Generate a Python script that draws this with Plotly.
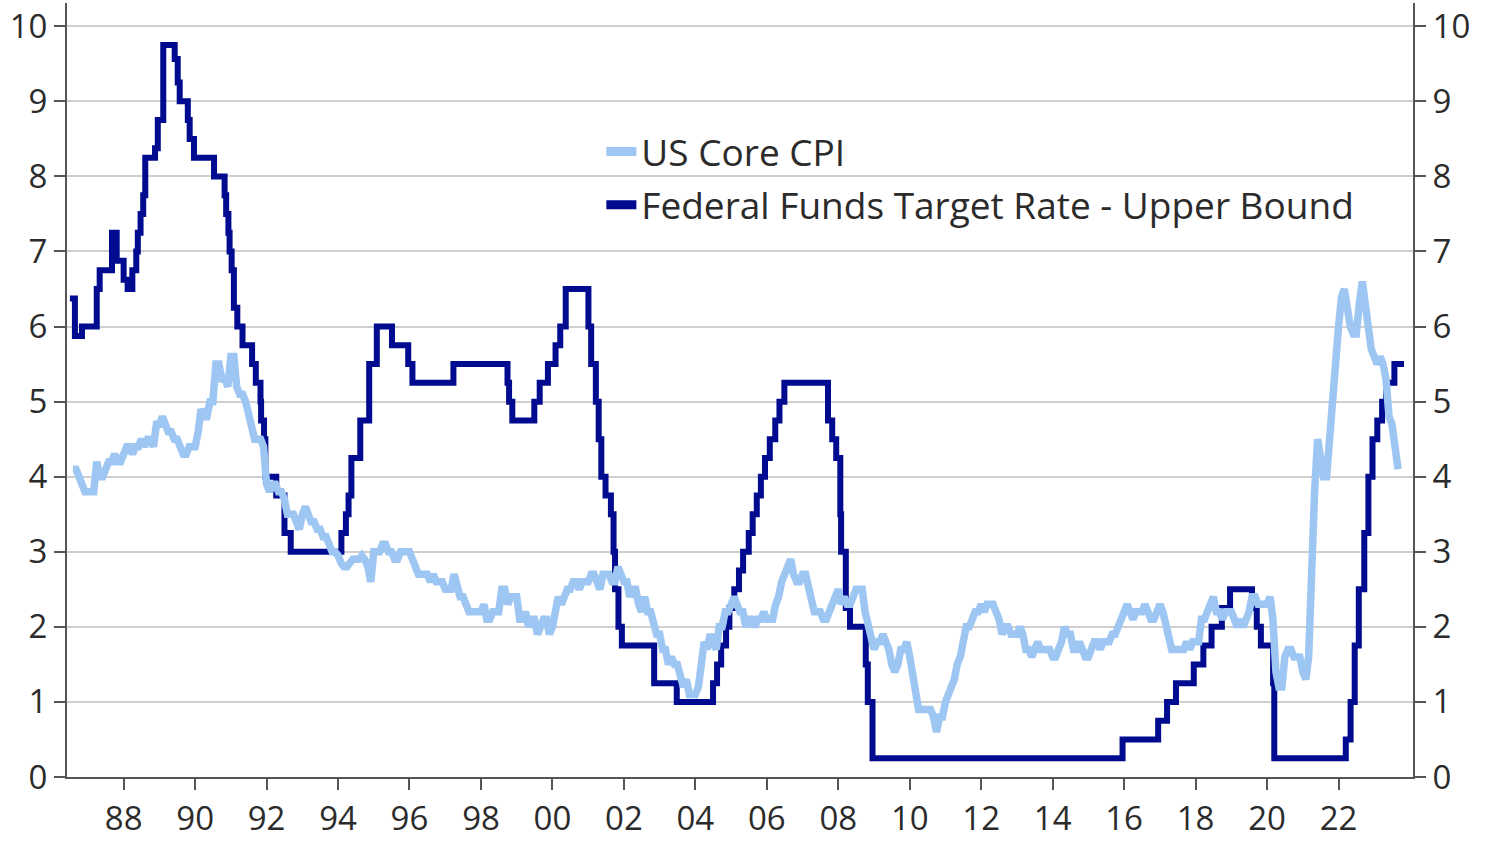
import plotly.graph_objects as go
import pandas as pd

# ---------------- data ----------------
series_names = ["US Core CPI", "Federal Funds Target Rate - Upper Bound"]

# US core CPI, % y/y, monthly from Aug 1986 to Sep 2023
cpi_start = "1986-08-01"
cpi_values = [
    4.1, 4.1, 4.0, 3.9, 3.8,                                        # 1986 (Aug-Dec)
    3.8, 3.8, 3.8, 4.2, 4.0, 4.0, 4.1, 4.2, 4.2, 4.3, 4.2, 4.2,     # 1987
    4.3, 4.4, 4.4, 4.3, 4.4, 4.4, 4.5, 4.4, 4.5, 4.5, 4.4, 4.7,     # 1988
    4.7, 4.8, 4.7, 4.6, 4.6, 4.5, 4.5, 4.4, 4.3, 4.3, 4.4, 4.4,     # 1989
    4.4, 4.6, 4.9, 4.8, 4.8, 5.0, 5.0, 5.5, 5.5, 5.3, 5.3, 5.2,     # 1990
    5.6, 5.6, 5.2, 5.1, 5.1, 5.0, 4.8, 4.6, 4.5, 4.5, 4.5, 4.4,     # 1991
    3.9, 3.8, 3.9, 3.9, 3.8, 3.8, 3.7, 3.5, 3.5, 3.5, 3.4, 3.3,     # 1992
    3.5, 3.6, 3.5, 3.4, 3.4, 3.3, 3.3, 3.2, 3.2, 3.1, 3.0, 3.0,     # 1993
    2.95, 2.85, 2.8, 2.8, 2.85, 2.9, 2.9, 2.9, 2.95, 2.9, 2.8, 2.6, # 1994
    3.0, 3.0, 3.0, 3.1, 3.1, 3.0, 3.0, 2.9, 2.9, 3.0, 3.0, 3.0,     # 1995
    3.0, 2.9, 2.8, 2.7, 2.7, 2.7, 2.7, 2.6, 2.7, 2.6, 2.6, 2.6,     # 1996
    2.5, 2.5, 2.5, 2.7, 2.5, 2.4, 2.4, 2.3, 2.2, 2.2, 2.2, 2.2,     # 1997
    2.2, 2.3, 2.1, 2.1, 2.2, 2.2, 2.2, 2.5, 2.5, 2.3, 2.4, 2.4,     # 1998
    2.4, 2.1, 2.1, 2.2, 2.0, 2.1, 2.1, 1.9, 2.0, 2.1, 2.1, 1.9,     # 1999
    2.0, 2.2, 2.4, 2.3, 2.4, 2.5, 2.5, 2.6, 2.6, 2.5, 2.6, 2.6,     # 2000
    2.6, 2.7, 2.7, 2.6, 2.5, 2.7, 2.7, 2.7, 2.6, 2.6, 2.8, 2.7,     # 2001
    2.6, 2.6, 2.4, 2.5, 2.5, 2.3, 2.2, 2.4, 2.2, 2.2, 2.0, 1.9,     # 2002
    1.9, 1.7, 1.7, 1.5, 1.6, 1.5, 1.5, 1.3, 1.2, 1.3, 1.1, 1.1,     # 2003
    1.1, 1.2, 1.6, 1.8, 1.7, 1.9, 1.8, 1.7, 2.0, 2.0, 2.2, 2.2,     # 2004
    2.3, 2.4, 2.3, 2.2, 2.2, 2.0, 2.1, 2.1, 2.0, 2.1, 2.1, 2.2,     # 2005
    2.1, 2.1, 2.1, 2.3, 2.4, 2.6, 2.7, 2.8, 2.9, 2.7, 2.6, 2.6,     # 2006
    2.7, 2.7, 2.5, 2.3, 2.2, 2.2, 2.2, 2.1, 2.1, 2.2, 2.3, 2.4,     # 2007
    2.5, 2.3, 2.4, 2.3, 2.3, 2.4, 2.5, 2.5, 2.5, 2.2, 2.0, 1.8,     # 2008
    1.7, 1.8, 1.8, 1.9, 1.8, 1.7, 1.5, 1.4, 1.5, 1.7, 1.7, 1.8,     # 2009
    1.6, 1.3, 1.1, 0.9, 0.9, 0.9, 0.9, 0.9, 0.8, 0.6, 0.8, 0.8,     # 2010
    1.0, 1.1, 1.2, 1.3, 1.5, 1.6, 1.8, 2.0, 2.0, 2.1, 2.2, 2.2,     # 2011
    2.3, 2.2, 2.3, 2.3, 2.3, 2.2, 2.1, 1.9, 2.0, 2.0, 1.9, 1.9,     # 2012
    1.9, 2.0, 1.9, 1.7, 1.7, 1.6, 1.7, 1.8, 1.7, 1.7, 1.7, 1.7,     # 2013
    1.6, 1.6, 1.7, 1.8, 2.0, 1.9, 1.9, 1.7, 1.7, 1.8, 1.7, 1.6,     # 2014
    1.6, 1.7, 1.8, 1.8, 1.7, 1.8, 1.8, 1.8, 1.9, 1.9, 2.0, 2.1,     # 2015
    2.2, 2.3, 2.2, 2.1, 2.2, 2.2, 2.2, 2.3, 2.2, 2.1, 2.1, 2.2,     # 2016
    2.3, 2.2, 2.0, 1.9, 1.7, 1.7, 1.7, 1.7, 1.7, 1.8, 1.7, 1.8,     # 2017
    1.8, 1.8, 2.1, 2.1, 2.2, 2.3, 2.4, 2.2, 2.2, 2.1, 2.2, 2.2,     # 2018
    2.2, 2.1, 2.0, 2.1, 2.0, 2.1, 2.2, 2.4, 2.4, 2.3, 2.3, 2.3,     # 2019
    2.3, 2.4, 2.1, 1.4, 1.2, 1.2, 1.6, 1.7, 1.7, 1.6, 1.6, 1.6,     # 2020
    1.4, 1.3, 1.6, 3.0, 3.8, 4.5, 4.3, 4.0, 4.0, 4.6, 4.9, 5.5,     # 2021
    6.0, 6.4, 6.5, 6.2, 6.0, 5.9, 5.9, 6.3, 6.6, 6.3, 6.0, 5.7,     # 2022
    5.6, 5.5, 5.6, 5.5, 5.3, 4.8, 4.7, 4.3, 4.1,                    # 2023 (Jan-Sep)
]

# Fed funds target rate (upper bound): dates of each change and new level
fed_dates = [
    "1986-07-01", "1986-08-21", "1986-11-01", "1987-04-01", "1987-05-01",
    "1987-09-04", "1987-10-22", "1988-01-01", "1988-02-11", "1988-03-30",
    "1988-05-09", "1988-05-25", "1988-06-22", "1988-07-19", "1988-08-09",
    "1988-11-17", "1988-12-15", "1989-02-09", "1989-06-06", "1989-07-07",
    "1989-07-27", "1989-10-18", "1989-11-06", "1989-12-20", "1990-07-13",
    "1990-10-29", "1990-11-14", "1990-12-07", "1990-12-19", "1991-01-09",
    "1991-02-01", "1991-03-08", "1991-04-30", "1991-08-06", "1991-09-13",
    "1991-10-31", "1991-11-06", "1991-12-06", "1991-12-20", "1992-04-09",
    "1992-07-02", "1992-09-04", "1994-02-04", "1994-03-22", "1994-04-18",
    "1994-05-17", "1994-08-16", "1994-11-15", "1995-02-01", "1995-07-06",
    "1995-12-19", "1996-01-31", "1997-03-25", "1998-09-29", "1998-10-15",
    "1998-11-17", "1999-06-30", "1999-08-24", "1999-11-16", "2000-02-02",
    "2000-03-21", "2000-05-16", "2001-01-03", "2001-01-31", "2001-03-20",
    "2001-04-18", "2001-05-15", "2001-06-27", "2001-08-21", "2001-09-17",
    "2001-10-02", "2001-11-06", "2001-12-11", "2002-11-06", "2003-06-25",
    "2004-06-30", "2004-08-10", "2004-09-21", "2004-11-10", "2004-12-14",
    "2005-02-02", "2005-03-22", "2005-05-03", "2005-06-30", "2005-08-09",
    "2005-09-20", "2005-11-01", "2005-12-13", "2006-01-31", "2006-03-28",
    "2006-05-10", "2006-06-29", "2007-09-18", "2007-10-31", "2007-12-11",
    "2008-01-22", "2008-01-30", "2008-03-18", "2008-04-30", "2008-10-08",
    "2008-10-29", "2008-12-16", "2015-12-16", "2016-12-14", "2017-03-15",
    "2017-06-14", "2017-12-13", "2018-03-21", "2018-06-13", "2018-09-26",
    "2018-12-19", "2019-07-31", "2019-09-18", "2019-10-30", "2020-03-03",
    "2020-03-15", "2022-03-16", "2022-05-04", "2022-06-15", "2022-07-27",
    "2022-09-21", "2022-11-02", "2022-12-14", "2023-02-01", "2023-03-22",
    "2023-05-03", "2023-07-26", "2023-11-01",
]
fed_rates = [
    6.375, 5.875, 6.0, 6.5, 6.75,
    7.25, 6.875, 6.625, 6.5, 6.75,
    7.0, 7.25, 7.5, 7.75, 8.25,
    8.375, 8.75, 9.75, 9.5625, 9.25,
    9.0, 8.75, 8.5, 8.25, 8.0,
    7.75, 7.5, 7.25, 7.0, 6.75,
    6.25, 6.0, 5.75, 5.5, 5.25,
    5.0, 4.75, 4.5, 4.0, 3.75,
    3.25, 3.0, 3.25, 3.5, 3.75,
    4.25, 4.75, 5.5, 6.0, 5.75,
    5.5, 5.25, 5.5, 5.25, 5.0,
    4.75, 5.0, 5.25, 5.5, 5.75,
    6.0, 6.5, 6.0, 5.5, 5.0,
    4.5, 4.0, 3.75, 3.5, 3.0,
    2.5, 2.0, 1.75, 1.25, 1.0,
    1.25, 1.5, 1.75, 2.0, 2.25,
    2.5, 2.75, 3.0, 3.25, 3.5,
    3.75, 4.0, 4.25, 4.5, 4.75,
    5.0, 5.25, 4.75, 4.5, 4.25,
    3.5, 3.0, 2.25, 2.0, 1.5,
    1.0, 0.25, 0.5, 0.75, 1.0,
    1.25, 1.5, 1.75, 2.0, 2.25,
    2.5, 2.25, 2.0, 1.75, 1.25,
    0.25, 0.5, 1.0, 1.75, 2.5,
    3.25, 4.0, 4.5, 4.75, 5.0,
    5.25, 5.5, 5.5,
]

tick_years = ["1988", "1990", "1992", "1994", "1996", "1998", "2000", "2002",
              "2004", "2006", "2008", "2010", "2012", "2014", "2016", "2018",
              "2020", "2022"]
tick_labels = ["88", "90", "92", "94", "96", "98", "00", "02", "04", "06",
               "08", "10", "12", "14", "16", "18", "20", "22"]
y_ticks = [0, 1, 2, 3, 4, 5, 6, 7, 8, 9, 10]

# ---------------- styling ----------------
CPI_COLOR = "#9ec6f3"
FED_COLOR = "#000b8f"
AXIS_COLOR = "#555555"
GRID_COLOR = "#cfcfcf"
TEXT_COLOR = "#2b2b2b"
FONT = "Open Sans"

cpi_dates = pd.date_range(cpi_start, periods=len(cpi_values), freq="MS")

fig = go.Figure()

# Fed funds (drawn underneath)
fig.add_trace(go.Scatter(
    x=fed_dates, y=fed_rates, mode="lines", line_shape="hv",
    line=dict(color=FED_COLOR, width=6), showlegend=False,
    hoverinfo="skip", yaxis="y",
))
# Core CPI (drawn on top, on the overlaying right axis with same range)
fig.add_trace(go.Scatter(
    x=cpi_dates, y=cpi_values, mode="lines",
    line=dict(color=CPI_COLOR, width=7.5), showlegend=False,
    hoverinfo="skip", yaxis="y2",
))

# Legend entries
for name, color, grp in [(series_names[0], CPI_COLOR, "a"),
                         (series_names[1], FED_COLOR, "b")]:
    fig.add_trace(go.Scatter(
        x=[None], y=[None], mode="lines", name=name, legendgroup=grp,
        line=dict(color=color, width=9), showlegend=True,
    ))

YMAX = 10.31
axis_common = dict(
    showline=True, linecolor=AXIS_COLOR, linewidth=2,
    ticks="outside", ticklen=11, tickwidth=2, tickcolor=AXIS_COLOR,
    zeroline=False, automargin=False, ticklabeloverflow="allow",
    tickfont=dict(family=FONT, size=33, color=TEXT_COLOR),
)
fig.update_layout(
    width=1500, height=850,
    margin=dict(l=67, r=87, t=3, b=73, autoexpand=False),
    paper_bgcolor="white", plot_bgcolor="white",
    font=dict(family=FONT, color=TEXT_COLOR, size=33),
    showlegend=True,
    legend=dict(
        x=0.397, y=0.8475, xanchor="left", yanchor="top",
        bgcolor="rgba(0,0,0,0)", borderwidth=0,
        font=dict(family=FONT, size=37, color=TEXT_COLOR),
        tracegroupgap=2, itemsizing="trace",
    ),
    xaxis=dict(
        type="date", range=["1986-06-01", "2024-02-01"],
        tickmode="array", tickvals=tick_years, ticktext=tick_labels,
        showgrid=False, **axis_common,
    ),
    yaxis=dict(
        range=[0, YMAX], tickmode="array", tickvals=y_ticks,
        showgrid=True, gridcolor=GRID_COLOR, gridwidth=1.5,
        **axis_common,
    ),
    yaxis2=dict(
        range=[0, YMAX], tickmode="array", tickvals=y_ticks,
        overlaying="y", side="right", anchor="x",
        showgrid=False, **axis_common,
    ),
)

# remove the default page margin so the 1500x850 figure fills the window
fig.write_html(
    "out.html",
    config={"displayModeBar": False},
    post_script="document.body.style.margin='0';",
)
